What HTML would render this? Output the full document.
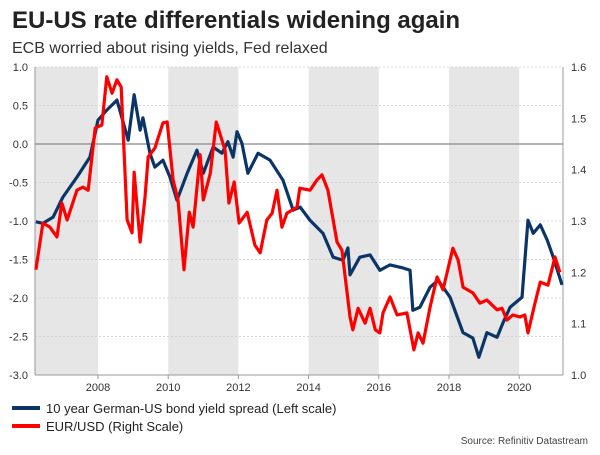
<!DOCTYPE html>
<html><head><meta charset="utf-8"><style>
body{margin:0;width:600px;height:450px;background:#fff;font-family:"Liberation Sans",sans-serif;overflow:hidden}
</style></head><body>
<svg id="c" width="600" height="450" xmlns="http://www.w3.org/2000/svg">
<text x="12" y="28" font-size="24" font-weight="bold" fill="#222">EU-US rate differentials widening again</text>
<text x="12" y="53" font-size="16" fill="#333">ECB worried about rising yields, Fed relaxed</text>
<g id="bands"></g><g id="grid"></g><g id="axes"></g><g id="series"></g>
<g>
<line x1="12" y1="408" x2="40" y2="408" stroke="#0b3566" stroke-width="4"/>
<text x="46" y="413" font-size="13" fill="#222">10 year German-US bond yield spread (Left scale)</text>
<line x1="12" y1="426" x2="40" y2="426" stroke="#ff0000" stroke-width="4"/>
<text x="46" y="431" font-size="13" fill="#222">EUR/USD (Right Scale)</text>
</g>
<text x="588" y="444" font-size="10" fill="#444" text-anchor="end">Source: Refinitiv Datastream</text>
</svg>
<script>
const spreadDates=[2006.23,2006.43,2006.72,2007.0,2007.4,2007.77,2008.0,2008.25,2008.54,2008.86,2009.03,2009.2,2009.28,2009.48,2009.62,2009.85,2010.05,2010.25,2010.54,2010.82,2011.0,2011.28,2011.53,2011.7,2011.85,2011.96,2012.1,2012.27,2012.56,2012.9,2013.27,2013.56,2013.76,2014.04,2014.41,2014.7,2014.98,2015.12,2015.18,2015.46,2015.75,2016.03,2016.32,2016.69,2016.89,2016.97,2017.17,2017.46,2017.69,2018.03,2018.4,2018.68,2018.85,2019.08,2019.37,2019.54,2019.74,2020.08,2020.25,2020.4,2020.6,2020.8,2020.97,2021.22];
const spreadValues=[-1.01,-1.03,-0.95,-0.69,-0.43,-0.17,0.31,0.44,0.57,0.05,0.64,0.18,0.34,-0.12,-0.3,-0.21,-0.43,-0.73,-0.38,-0.08,-0.38,-0.04,-0.12,0.03,-0.17,0.16,0.01,-0.38,-0.12,-0.21,-0.47,-0.86,-0.82,-0.99,-1.16,-1.47,-1.51,-1.35,-1.7,-1.47,-1.44,-1.64,-1.57,-1.61,-1.64,-2.16,-2.12,-1.86,-1.77,-1.99,-2.45,-2.52,-2.77,-2.45,-2.51,-2.32,-2.12,-1.99,-0.99,-1.16,-1.05,-1.25,-1.47,-1.83];
const fxDates=[2006.23,2006.43,2006.63,2006.83,2006.97,2007.12,2007.4,2007.57,2007.72,2007.92,2008.11,2008.25,2008.4,2008.54,2008.66,2008.83,2008.97,2009.03,2009.2,2009.34,2009.43,2009.62,2009.85,2009.97,2010.14,2010.28,2010.45,2010.6,2010.71,2010.91,2011.0,2011.2,2011.37,2011.62,2011.73,2011.88,2012.02,2012.25,2012.47,2012.62,2012.81,2012.96,2013.1,2013.24,2013.38,2013.67,2013.75,2014.04,2014.24,2014.38,2014.55,2014.81,2014.95,2015.18,2015.26,2015.41,2015.61,2015.75,2015.9,2016.03,2016.12,2016.32,2016.52,2016.8,2017.0,2017.12,2017.26,2017.46,2017.66,2017.83,2018.11,2018.26,2018.4,2018.68,2018.88,2019.08,2019.37,2019.51,2019.65,2019.82,2020.02,2020.16,2020.25,2020.45,2020.6,2020.82,2021.02,2021.16];
const fxValues=[1.205,1.296,1.288,1.269,1.335,1.302,1.36,1.366,1.36,1.481,1.487,1.581,1.549,1.575,1.561,1.302,1.277,1.395,1.259,1.347,1.425,1.442,1.491,1.493,1.38,1.341,1.205,1.317,1.288,1.429,1.341,1.393,1.493,1.438,1.335,1.376,1.296,1.317,1.253,1.238,1.302,1.315,1.36,1.288,1.315,1.327,1.364,1.36,1.38,1.39,1.36,1.259,1.243,1.113,1.088,1.13,1.101,1.13,1.088,1.082,1.121,1.152,1.117,1.121,1.049,1.082,1.062,1.132,1.191,1.166,1.247,1.224,1.171,1.16,1.14,1.146,1.127,1.13,1.107,1.117,1.113,1.117,1.082,1.14,1.181,1.175,1.23,1.2];
const leftTicks=[1.0,0.5,0.0,-0.5,-1.0,-1.5,-2.0,-2.5,-3.0];
const rightTicks=[1.6,1.5,1.4,1.3,1.2,1.1,1.0];
const yearTicks=[2008,2010,2012,2014,2016,2018,2020];
const shadeBands=[[2006.2,2008],[2010,2012],[2014,2016],[2018,2020]];
const NS="http://www.w3.org/2000/svg";
const X0=35,X1=563,Y0=67,Y1=375;
const xs=y=>98+(y-2008)*35.1;
const yl=v=>Y0+(1-v)/4*(Y1-Y0);
const yr=v=>Y0+(1.6-v)/0.6*(Y1-Y0);
function mk(t,a,p){const e=document.createElementNS(NS,t);for(const k in a)e.setAttribute(k,a[k]);document.getElementById(p).appendChild(e);return e;}
shadeBands.forEach(b=>{const e=mk('rect',{x:Math.max(X0,xs(b[0])),y:Y0,width:xs(b[1])-Math.max(X0,xs(b[0])),height:Y1-Y0,fill:'#e6e6e6'},'bands');

});
leftTicks.forEach(v=>{const y=yl(v);
const g=mk('line',{x1:X0,x2:X1,y1:y,y2:y,stroke:v===0?'#888':'#ccc','stroke-width':v===0?1.2:0.8,'stroke-dasharray':v===0?'':'2,2'},'grid');


const t=mk('text',{x:28,y:y+4,'font-size':11,'text-anchor':'end',fill:'#333'},'axes');t.textContent=v.toFixed(1);

});
rightTicks.forEach(v=>{const y=yr(v);
const t=mk('text',{x:571,y:y+4,'font-size':11,fill:'#333'},'axes');t.textContent=v.toFixed(1);

});
yearTicks.forEach(v=>{const x=xs(v);
mk('line',{x1:x,x2:x,y1:Y1,y2:Y1+4,stroke:'#999'},'axes');
const t=mk('text',{x:x,y:Y1+16,'font-size':11,'text-anchor':'middle',fill:'#333'},'axes');t.textContent=v;

});
mk('line',{x1:X0,x2:X1,y1:Y1,y2:Y1,stroke:'#999'},'axes');
mk('line',{x1:X0,x2:X0,y1:Y0,y2:Y1,stroke:'#999'},'axes');
mk('line',{x1:X1,x2:X1,y1:Y0,y2:Y1,stroke:'#999'},'axes');
const sp=mk('polyline',{points:spreadDates.map((d,i)=>xs(d)+','+yl(spreadValues[i])).join(' '),fill:'none',stroke:'#0b3566','stroke-width':3.2,'stroke-linejoin':'round'},'series');


const fx=mk('polyline',{points:fxDates.map((d,i)=>xs(d)+','+yr(fxValues[i])).join(' '),fill:'none',stroke:'#ff0000','stroke-width':3.2,'stroke-linejoin':'round'},'series');


</script>
</body></html>
